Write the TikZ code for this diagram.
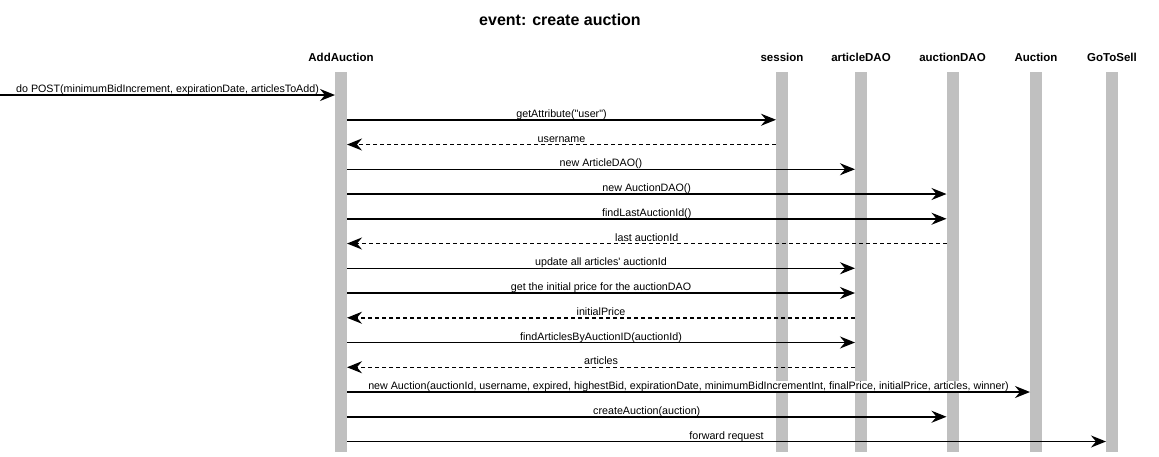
\documentclass[tikz,border=0pt]{standalone}
\usepackage{fontspec}
\setmainfont{Liberation Sans}[Ligatures=TeXOff]
\usetikzlibrary{arrows.meta}
\definecolor{lifegray}{HTML}{C0C0C0}
\begin{document}
\begin{tikzpicture}[x=1pt,y=-1pt,
  lifebar/.style={fill=lifegray, draw=none, minimum width=12pt, minimum height=380pt, inner sep=0pt, outer sep=0pt},
  head/.style={font=\fontsize{11.5}{13}\selectfont\bfseries, anchor=base, inner sep=0pt},
  titletext/.style={font=\fontsize{16}{18}\selectfont\bfseries, anchor=base, inner sep=0pt},
  lab/.style={font=\fontsize{10.7}{12}\selectfont, fill=white, inner sep=1pt, anchor=base, yshift=2.3pt, behind path},
  msg/.style={line width=1.5pt, -{Stealth[length=15pt,width=12pt,inset=5pt]}},
  ret/.style={msg, dash pattern=on 4pt off 3pt}]
\useasboundingbox[fill=white] (0,0) rectangle (1159,456);

\node[titletext] (title) at (560,25) {event: create auction};

% lifelines
\node[lifebar] (L1) at (341,262) {};
\node[lifebar] (Ls) at (782,262) {};
\node[lifebar] (La) at (861,262) {};
\node[lifebar] (Lu) at (952.5,262) {};
\node[lifebar] (LA) at (1036,262) {};
\node[lifebar] (LG) at (1112,262) {};

% headers
\node[head] (h1) at (341,61) {AddAuction};
\node[head] (hs) at (782,61) {session};
\node[head] (ha) at (861,61) {articleDAO};
\node[head] (hu) at (952.5,61) {auctionDAO};
\node[head] (hA) at (1036,61) {Auction};
\node[head] (hG) at (1112,61) {GoToSell};

% messages
\coordinate (src) at (0,95);
\draw[msg] (src) -- node[lab]{do POST(minimumBidIncrement, expirationDate, articlesToAdd)} (L1.west |- src);
\draw[msg] (L1.east |- 0,119.75) -- node[lab]{getAttribute("user")} (Ls.west |- 0,119.75);
\draw[ret] (Ls.west |- 0,144.5) -- node[lab]{username} (L1.east |- 0,144.5);
\draw[msg] (L1.east |- 0,169.25) -- node[lab]{new ArticleDAO()} (La.west |- 0,169.25);
\draw[msg] (L1.east |- 0,194) -- node[lab]{new AuctionDAO()} (Lu.west |- 0,194);
\draw[msg] (L1.east |- 0,218.75) -- node[lab]{findLastAuctionId()} (Lu.west |- 0,218.75);
\draw[ret] (Lu.west |- 0,243.5) -- node[lab]{last auctionId} (L1.east |- 0,243.5);
\draw[msg] (L1.east |- 0,268.25) -- node[lab]{update all articles' auctionId} (La.west |- 0,268.25);
\draw[msg] (L1.east |- 0,293) -- node[lab]{get the initial price for the auctionDAO} (La.west |- 0,293);
\draw[ret] (La.west |- 0,317.75) -- node[lab]{initialPrice} (L1.east |- 0,317.75);
\draw[msg] (L1.east |- 0,342.5) -- node[lab]{findArticlesByAuctionID(auctionId)} (La.west |- 0,342.5);
\draw[ret] (La.west |- 0,367.25) -- node[lab]{articles} (L1.east |- 0,367.25);
\draw[msg] (L1.east |- 0,392) -- node[lab]{new Auction(auctionId, username, expired, highestBid, expirationDate, minimumBidIncrementInt, finalPrice, initialPrice, articles, winner)} (LA.west |- 0,392);
\draw[msg] (L1.east |- 0,416.75) -- node[lab]{createAuction(auction)} (Lu.west |- 0,416.75);
\draw[msg] (L1.east |- 0,441.5) -- node[lab]{forward request} (LG.west |- 0,441.5);
\end{tikzpicture}
\end{document}
